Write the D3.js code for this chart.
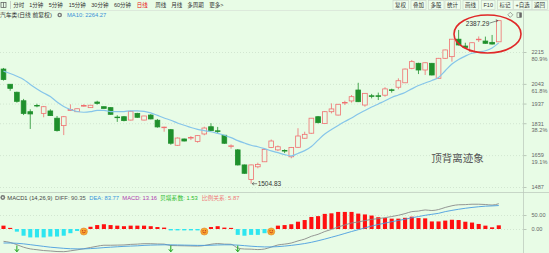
<!DOCTYPE html>
<html>
<head>
<meta charset="utf-8">
<script src="https://cdn.jsdelivr.net/npm/d3@7"></script>
<style>
  html, body { margin: 0; padding: 0; background: #e8fce6; overflow: hidden; }
  svg { display: block; }
  text { font-family: "Liberation Sans", "Noto Sans CJK SC", sans-serif; }
</style>
</head>
<body>
<svg id="chart" width="549" height="253"></svg>
<script>
// daily candles
const opens = [2123,2041,1998,1952,1893,1927,1884,1897,1858,1818,
  1900,1893,1924,1915,1945,1920,1915,1864,1866,1848,
  1884,1848,1875,1847,1808,1796,1712,1746,1751,1733,
  1773,1812,1790,1766,1707,1687,1606,1528,1596,1623,
  1700,1687,1684,1650,1701,1750,1777,1866,1830,1893,
  1875,1940,1951,2010,1929,1979,1979,1982,2011,2025,
  2049,2127,2154,2118,2154,2073,2181,2190,2284,2247,
  2217,2282,2274,2267,2270];
const highs = [2129,2042,2001,1962,1906,1936,1924,1906,1870,1870,
  1933,1910,1933,1929,1952,1921,1917,1874,1870,1898,
  1887,1871,1880,1854,1812,1800,1754,1748,1762,1767,
  1812,1831,1811,1767,1717,1692,1608,1608,1618,1692,
  1743,1711,1690,1703,1804,1785,1859,1870,1897,1938,
  1935,1952,1983,2049,1994,1989,1996,2025,2017,2073,
  2126,2172,2157,2159,2156,2183,2228,2285,2334,2265,
  2267,2299,2298,2307,2387.29];
const lows = [2061,2006,1942,1875,1800,1917,1863,1870,1786,1767,
  1899,1891,1920,1913,1931,1910,1877,1838,1841,1846,
  1860,1846,1852,1807,1785,1715,1709,1733,1740,1726,
  1766,1789,1777,1719,1694,1603,1558,1504.83,1588,1622,
  1697,1681,1670,1642,1698,1747,1774,1830,1828,1884,
  1873,1929,1942,1945,1920,1965,1956,1974,1996,2014,
  2048,2122,2096,2091,2089,2071,2178,2163,2250,2237,
  2215,2269,2259,2255,2269];
const closes = [2067,2019,1949,1884,1881,1924,1920,1872,1791,1866,
  1905,1909,1926,1928,1938,1911,1879,1862,1845,1895,
  1863,1870,1854,1811,1810,1723,1751,1735,1754,1764,
  1805,1791,1788,1723,1709,1606,1561,1606,1609,1690,
  1735,1704,1681,1700,1762,1771,1858,1834,1893,1908,
  1933,1943,1974,1947,1992,1977,1977,2016,2009,2060,
  2123,2163,2118,2157,2091,2181,2226,2284,2253,2240,
  2265,2284,2262,2258,2384];
const ma10 = [2112,2099,2084,2067,2040,2016,1994,1975,1945,1921,
  1905,1894,1890,1893,1900,1900,1894,1893,1894,1898,
  1898,1895,1887,1873,1859,1847,1832,1820,1808,1798,
  1791,1785,1776,1766,1753,1737,1724,1712,1704,1694,
  1682,1672,1662,1655,1668,1683,1705,1740,1773,1797,
  1819,1840,1859,1881,1900,1918,1935,1952,1970,1983,
  1997,2016,2034,2048,2061,2078,2114,2150,2175,2193,
  2208,2215,2222,2237,2264.27];

// MACD(14,26,9)
const diff = [-44,-48,-56,-65,-71,-74,-77,-78.5,-80.5,-81,
  -78,-74.5,-70.5,-66,-61.5,-58,-58,-57.5,-57,-55,
  -54,-52.5,-52.5,-53.5,-54,-59,-59.5,-60,-60.5,-61,
  -59,-54.5,-52,-54,-54.5,-68,-71.5,-72,-73.5,-71.5,
  -64.5,-57,-54,-50,-42.5,-36,-26,-19,-9,-1.5,
  7.5,14.5,21.5,25,30,34.5,37,40.5,44.5,49,
  55,62,64,68,66,69.5,77,83,86.5,87,
  88.5,88.5,87.5,85.5,90.35];
const dea = [-50,-50,-51,-53,-56,-59,-62,-65,-67,-69,
  -70.5,-71,-71,-70,-68.5,-66.5,-65,-63.5,-62,-61,
  -60,-58.5,-57.5,-57,-56.5,-56.5,-57,-57.5,-58,-58.5,
  -58.5,-58,-57,-56.5,-56.5,-57.5,-59.5,-61.5,-63,-64,
  -64,-63,-61,-58.5,-55.5,-52,-47.5,-42,-36,-29.5,
  -23,-16,-9,-2.5,4,10.5,16,21,26,30.5,
  35,40,44.5,49,52.5,56,62,66.5,70.5,74,
  77,79.5,81.5,82.5,83.77];
const macd = [12,4,-9.5,-24,-30,-30,-30,-27,-27,-24,
  -15,-7,1,8,14,17,14,12,10,12,
  12,12,10,7,5,-5,-5,-5,-5,-5,
  -1,7,10,5,4,-21,-24,-21,-21,-15,
  -1,12,14,17,26,32,43,46,54,56,
  61,61,61,55,52,48,42,39,37,37,
  40,44,39,38,27,27,30,33,32,26,
  23,18,12,6,13.16];
const crossUp = [12, 30, 40];
const crossDown = [2, 25, 35];

const priceTicks = [2215, 2043, 1937, 1831, 1659, 1487];
const pctLabels = ["80.9%", "61.8%", "", "38.2%", "19.1%", ""];
const macdTicks = [50, 0];

const periods = ["分时","1分钟","5分钟","15分钟","30分钟","60分钟","日线","周线","月线","多周期","更多>"];
const buttons = ["复权","叠加","多股","统计","画线","F10","标记","+自选","返回"];

const W = 549, H = 253;
const BG = "#e8fce6", RED = "#f07070", GREEN = "#1f902c";
const svg = d3.select("#chart");

svg.append("rect").attr("width", W).attr("height", H).attr("fill", BG);

// scales
const x = d3.scaleBand().domain(d3.range(opens.length)).range([-0.86, 503.14]).padding(0.3);
const cx = i => x(i) + x.bandwidth() / 2;
const y = d3.scaleLinear().domain([1487, 2215]).range([187, 52]);
const ym = d3.scaleLinear().domain([0, 50]).range([229, 215]);

// ---- toolbar
const bar = svg.append("g").style("font-size", "5.5px");
bar.append("rect").attr("x", 1).attr("y", 2.5).attr("width", 5).attr("height", 5)
    .attr("fill", "none").attr("stroke", "#555").attr("stroke-width", 0.7);
bar.append("line").attr("x1", 3.5).attr("x2", 3.5).attr("y1", 2.5).attr("y2", 7.5)
    .attr("stroke", "#555").attr("stroke-width", 0.7);
bar.append("line").attr("x1", 10.5).attr("x2", 10.5).attr("y1", 1).attr("y2", 9)
    .attr("stroke", "#c8d0c8");
const periodX = [13.3, 29.3, 48.7, 68.7, 91.3, 114, 136.7, 155.3, 171.3, 187.3, 209.3];
bar.selectAll("text.period").data(periods).join("text")
    .attr("class", "period")
    .attr("x", (d, i) => periodX[i]).attr("y", 5)
    .attr("dominant-baseline", "central")
    .attr("fill", d => d === "日线" ? "#e81010" : "#333")
    .text(d => d);

const btnX = [395, 413, 430.5, 447, 465, 483.5, 499.5, 515.5, 534];
const btns = bar.selectAll("g.btn").data(buttons).join("g").attr("class", "btn");
btns.append("text")
    .attr("x", (d, i) => btnX[i]).attr("y", 5)
    .attr("dominant-baseline", "central")
    .attr("fill", "#333")
    .text(d => d);
btns.each(function() {
    const g = d3.select(this);
    const bb = g.select("text").node().getBBox();
    g.insert("rect", "text")
        .attr("x", bb.x - 2).attr("y", 0.5)
        .attr("width", bb.width + 4).attr("height", 9)
        .attr("fill", "#eefdec").attr("stroke", "#c9d3c9").attr("stroke-width", 0.6);
});

svg.append("line").attr("x1", 0).attr("x2", W).attr("y1", 10.5).attr("y2", 10.5)
    .attr("stroke", "#d4dcd4").attr("stroke-width", 0.6);

// legend row
const legend = svg.append("g").style("font-size", "5.8px");
legend.append("text").attr("x", 0).attr("y", 15).attr("dominant-baseline", "central")
    .attr("fill", "#333").text("汽车类(日线 前复权)");
legend.append("circle").attr("cx", 59.7).attr("cy", 15).attr("r", 2.3).attr("fill", "#777");
legend.append("circle").attr("cx", 59.7).attr("cy", 15).attr("r", 0.9).attr("fill", BG);
legend.append("text").attr("x", 67).attr("y", 15).attr("dominant-baseline", "central")
    .attr("fill", "#3a90d8").text("MA10: " + ma10[ma10.length - 1].toFixed(2));

// top right little icons
svg.append("rect").attr("x", 508.5).attr("y", 13).attr("width", 3.6).attr("height", 3.6)
    .attr("transform", "rotate(45 510.3 14.8)")
    .attr("fill", "none").attr("stroke", "#777").attr("stroke-width", 0.6);
svg.append("rect").attr("x", 517).attr("y", 12.8).attr("width", 4.5).attr("height", 4.5)
    .attr("fill", "none").attr("stroke", "#666").attr("stroke-width", 0.6);
svg.append("rect").attr("x", 519.3).attr("y", 12.8).attr("width", 2.2).attr("height", 4.5)
    .attr("fill", "#666");

// ---- grid + right axis (price)
const grid = svg.append("g");
grid.selectAll("line.pg").data(priceTicks).join("line")
    .attr("class", "pg")
    .attr("x1", 0).attr("x2", 523)
    .attr("y1", d => y(d) + 0.5).attr("y2", d => y(d) + 0.5)
    .attr("stroke", "#c3d6c3").attr("stroke-width", 0.6)
    .attr("stroke-dasharray", "1,2");
grid.selectAll("line.mg").data(macdTicks).join("line")
    .attr("class", "mg")
    .attr("x1", 0).attr("x2", 523)
    .attr("y1", d => ym(d) + 0.5).attr("y2", d => ym(d) + 0.5)
    .attr("stroke", "#c3d6c3").attr("stroke-width", 0.6)
    .attr("stroke-dasharray", "1,2");

const axisP = svg.append("g").attr("transform", "translate(523.5,0)")
    .call(d3.axisRight(y).tickValues(priceTicks).tickSize(3).tickPadding(5).tickFormat(d3.format("d")));
const axisM = svg.append("g").attr("transform", "translate(523.5,0)")
    .call(d3.axisRight(ym).tickValues(macdTicks).tickSize(3).tickPadding(5).tickFormat(d3.format(".2f")));
[axisP, axisM].forEach(a => {
    a.select(".domain").remove();
    a.selectAll("line").attr("stroke", "#9aa69a").attr("stroke-width", 0.6);
    a.selectAll("text").attr("fill", "#666").style("font-size", "5.6px")
        .style("font-family", "Liberation Sans, sans-serif");
});
axisP.selectAll(".tick").append("text")
    .attr("x", 8).attr("dy", "1.45em")
    .attr("fill", "#666").style("font-size", "5.6px")
    .text((d, i) => pctLabels[i]);

svg.append("line").attr("x1", 523.5).attr("x2", 523.5).attr("y1", 10.5).attr("y2", H)
    .attr("stroke", "#b9c5b9").attr("stroke-width", 0.7);
svg.append("line").attr("x1", 0).attr("x2", W).attr("y1", 192.5).attr("y2", 192.5)
    .attr("stroke", "#b9c5b9").attr("stroke-width", 0.7);

// ---- candles
const idx = d3.range(opens.length);
const up = i => closes[i] >= opens[i];
const candles = svg.append("g").selectAll("g").data(idx).join("g");
candles.append("line")
    .attr("x1", i => cx(i)).attr("x2", i => cx(i))
    .attr("y1", i => y(highs[i])).attr("y2", i => y(lows[i]))
    .attr("stroke", i => up(i) ? RED : GREEN).attr("stroke-width", 0.8);
candles.append("rect")
    .attr("x", i => x(i)).attr("width", x.bandwidth())
    .attr("y", i => y(Math.max(opens[i], closes[i])))
    .attr("height", i => Math.max(0.6, Math.abs(y(opens[i]) - y(closes[i]))))
    .attr("fill", i => up(i) ? BG : GREEN)
    .attr("stroke", i => up(i) ? RED : GREEN)
    .attr("stroke-width", 0.8);

// MA10
svg.append("path").datum(ma10)
    .attr("fill", "none").attr("stroke", "#86c5ea").attr("stroke-width", 1.2)
    .attr("d", d3.line().x((d, i) => cx(i)).y(d => y(d)).curve(d3.curveMonotoneX));

// extreme labels
const iMin = d3.minIndex(lows), iMax = d3.maxIndex(highs);
const note = svg.append("g").style("font-size", "6.5px").attr("fill", "#333");
note.append("path")
    .attr("d", `M${cx(iMin) + 6},${y(lows[iMin])} h-5 m2,-1.5 l-2,1.5 l2,1.5`)
    .attr("fill", "none").attr("stroke", "#444").attr("stroke-width", 0.6);
note.append("text").attr("x", cx(iMin) + 6.5).attr("y", y(lows[iMin]))
    .attr("dominant-baseline", "central").text(lows[iMin].toFixed(2));
note.append("path")
    .attr("d", `M${cx(iMax) - 9},${y(highs[iMax]) + 3} L${cx(iMax) - 1},${y(highs[iMax]) + 0.5} m-2,-1 l2,1 l-1.5,1.6`)
    .attr("fill", "none").attr("stroke", "#444").attr("stroke-width", 0.6);
note.append("text").attr("x", cx(iMax) - 9.5).attr("y", y(highs[iMax]) + 3.5)
    .attr("text-anchor", "end").attr("dominant-baseline", "central").text(highs[iMax].toFixed(2));

// red ring around the top
svg.append("ellipse").attr("cx", 487.5).attr("cy", 34).attr("rx", 33.5).attr("ry", 19)
    .attr("fill", "none").attr("stroke", "#e02828").attr("stroke-width", 1.6);

// watermark
svg.append("text").attr("x", 457.5).attr("y", 157)
    .attr("text-anchor", "middle").attr("dominant-baseline", "central")
    .style("font-family", "Noto Sans CJK SC").style("font-size", "10.5px")
    .attr("fill", "#555").text("顶背离迹象");

// ---- MACD panel
const ml = svg.append("g").style("font-size", "5.8px");
ml.append("circle").attr("cx", 2.8).attr("cy", 197.5).attr("r", 2.4).attr("fill", "#777");
ml.append("circle").attr("cx", 2.8).attr("cy", 197.5).attr("r", 0.9).attr("fill", BG);
const mItems = [
    ["MACD1 (14,26,9)", "#444", 7.3],
    ["DIFF: " + diff[diff.length - 1].toFixed(2), "#555", 55],
    ["DEA: " + dea[dea.length - 1].toFixed(2), "#3a95dd", 89.3],
    ["MACD: " + macd[macd.length - 1].toFixed(2), "#b040b0", 122.3],
    ["贝塔系数: 1.53", "#2dbb2d", 160],
    ["比例关系: 5.87", "#f07878", 201.7]
];
ml.selectAll("text").data(mItems).join("text")
    .attr("x", d => d[2]).attr("y", 197.5).attr("dominant-baseline", "central")
    .attr("fill", d => d[1]).text(d => d[0]);

svg.append("g").selectAll("rect").data(idx).join("rect")
    .attr("x", i => x(i) + 0.3).attr("width", x.bandwidth() - 0.6)
    .attr("y", i => Math.min(ym(macd[i]), ym(0)))
    .attr("height", i => Math.abs(ym(macd[i]) - ym(0)))
    .attr("fill", i => macd[i] >= 0 ? "#ff1010" : "#2ee6f0");

const mline = d3.line().x((d, i) => cx(i)).y(d => ym(d)).curve(d3.curveMonotoneX);
svg.append("path").datum(diff).attr("fill", "none").attr("stroke", "#8a8a8a")
    .attr("stroke-width", 0.9).attr("d", mline);
svg.append("path").datum(dea).attr("fill", "none").attr("stroke", "#4a9de0")
    .attr("stroke-width", 0.9).attr("d", mline);

// cross signals
const gold = svg.append("g").selectAll("g").data(crossUp).join("g")
    .attr("transform", i => `translate(${cx(i)},${ym(0) + 2.5})`);
gold.append("circle").attr("r", 3.6).attr("fill", "#f6a830").attr("stroke", "#e07d20").attr("stroke-width", 0.5);
gold.append("path").attr("d", "M-1.8,0.3 Q0,2.4 1.8,0.3").attr("fill", "none")
    .attr("stroke", "#c8341c").attr("stroke-width", 0.8);
gold.append("circle").attr("cx", -1.2).attr("cy", -1).attr("r", 0.6).attr("fill", "#c8341c");
gold.append("circle").attr("cx", 1.2).attr("cy", -1).attr("r", 0.6).attr("fill", "#c8341c");

svg.append("g").selectAll("path").data(crossDown).join("path")
    .attr("d", i => `M${cx(i)},245.5 V251.5 M${cx(i) - 2},249.3 L${cx(i)},251.8 L${cx(i) + 2},249.3`)
    .attr("fill", "none").attr("stroke", "#1aa01a").attr("stroke-width", 1);
</script>
</body>
</html>
